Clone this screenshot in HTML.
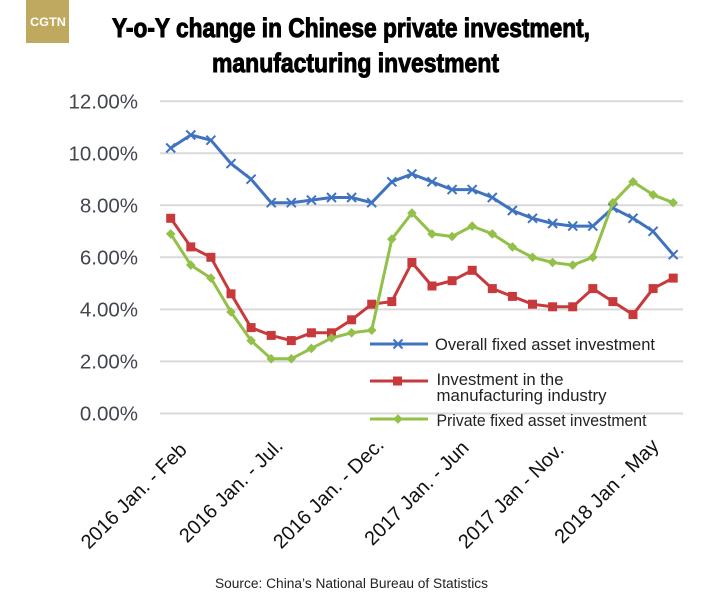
<!DOCTYPE html>
<html>
<head>
<meta charset="utf-8">
<style>
  html,body{margin:0;padding:0;background:#fff;}
  svg{display:block;}
</style>
</head>
<body>
<svg width="706" height="601" viewBox="0 0 706 601" xmlns="http://www.w3.org/2000/svg">
  <defs>
    <marker id="mx" markerWidth="12" markerHeight="12" refX="6" refY="6" markerUnits="userSpaceOnUse" overflow="visible">
      <path d="M1.5 1.5 L10.5 10.5 M10.5 1.5 L1.5 10.5" stroke="#3f73c2" stroke-width="2" fill="none"/>
    </marker>
    <marker id="ms" markerWidth="12" markerHeight="12" refX="6" refY="6" markerUnits="userSpaceOnUse" overflow="visible">
      <rect x="1.5" y="1.5" width="9" height="9" fill="#c8393b"/>
    </marker>
    <marker id="md" markerWidth="12" markerHeight="12" refX="6" refY="6" markerUnits="userSpaceOnUse" overflow="visible">
      <path d="M6 1.2 L10.8 6 L6 10.8 L1.2 6 Z" fill="#92c048"/>
    </marker>
  </defs>

  <rect x="0" y="0" width="706" height="601" fill="#fff"/>

  <!-- Logo -->
  <rect x="26" y="0" width="43" height="43" fill="#bfa95f"/>
  <text x="30" y="26" font-family="Liberation Sans, sans-serif" font-weight="bold" font-size="11.5" fill="#fff" textLength="36" lengthAdjust="spacingAndGlyphs">CGTN</text>

  <!-- Title -->
  <text x="112" y="37" font-family="Liberation Sans Narrow, Liberation Sans, sans-serif" font-weight="bold" font-size="27" fill="#000" stroke="#000" stroke-width="1" textLength="478" lengthAdjust="spacingAndGlyphs">Y-o-Y change in Chinese private investment,</text>
  <text x="212" y="72" font-family="Liberation Sans Narrow, Liberation Sans, sans-serif" font-weight="bold" font-size="27" fill="#000" stroke="#000" stroke-width="1" textLength="287" lengthAdjust="spacingAndGlyphs">manufacturing investment</text>

  <!-- Gridlines -->
  <g stroke="#d9d9d9" stroke-width="2">
    <line x1="160" y1="101.2" x2="683" y2="101.2"/>
    <line x1="160" y1="153.2" x2="683" y2="153.2"/>
    <line x1="160" y1="205.3" x2="683" y2="205.3"/>
    <line x1="160" y1="257.3" x2="683" y2="257.3"/>
    <line x1="160" y1="309.4" x2="683" y2="309.4"/>
    <line x1="160" y1="361.4" x2="683" y2="361.4"/>
    <line x1="160" y1="413.5" x2="683" y2="413.5"/>
  </g>

  <!-- Y labels -->
  <g font-family="Liberation Sans, sans-serif" font-size="20.5" fill="#424651" text-anchor="end">
    <text x="138" y="108.5">12.00%</text>
    <text x="138" y="160.5">10.00%</text>
    <text x="138" y="212.5">8.00%</text>
    <text x="138" y="264.5">6.00%</text>
    <text x="138" y="316.5">4.00%</text>
    <text x="138" y="368.5">2.00%</text>
    <text x="138" y="420.5">0.00%</text>
  </g>

  <!-- Series: Overall (blue) -->
  <polyline fill="none" stroke="#3f73c2" stroke-width="3" stroke-linejoin="round"
    marker-start="url(#mx)" marker-mid="url(#mx)" marker-end="url(#mx)"
    points="170.7,148.0 190.8,135.0 210.9,140.2 231.0,163.6 251.1,179.2 271.2,202.7 291.3,202.7 311.4,200.1 331.5,197.5 351.6,197.5 371.7,202.7 391.8,181.8 411.9,174.0 432.0,181.8 452.1,189.6 472.2,189.6 492.3,197.5 512.4,210.5 532.5,218.3 552.6,223.5 572.7,226.1 592.8,226.1 612.9,207.9 633.0,218.3 653.1,231.3 673.2,254.7"/>

  <!-- Series: Manufacturing (red) -->
  <polyline fill="none" stroke="#c8393b" stroke-width="3" stroke-linejoin="round"
    marker-start="url(#ms)" marker-mid="url(#ms)" marker-end="url(#ms)"
    points="170.7,218.3 190.8,246.9 210.9,257.3 231.0,293.8 251.1,327.6 271.2,335.4 291.3,340.6 311.4,332.8 331.5,332.8 351.6,319.8 371.7,304.2 391.8,301.6 411.9,262.5 432.0,286.0 452.1,280.7 472.2,270.3 492.3,288.6 512.4,296.4 532.5,304.2 552.6,306.8 572.7,306.8 592.8,288.6 612.9,301.6 633.0,314.6 653.1,288.6 673.2,278.1"/>

  <!-- Series: Private (green) -->
  <polyline fill="none" stroke="#92c048" stroke-width="3" stroke-linejoin="round"
    marker-start="url(#md)" marker-mid="url(#md)" marker-end="url(#md)"
    points="170.7,233.9 190.8,265.1 210.9,278.1 231.0,312.0 251.1,340.6 271.2,358.8 291.3,358.8 311.4,348.4 331.5,338.0 351.6,332.8 371.7,330.2 391.8,239.1 411.9,213.1 432.0,233.9 452.1,236.5 472.2,226.1 492.3,233.9 512.4,246.9 532.5,257.3 552.6,262.5 572.7,265.1 592.8,257.3 612.9,202.7 633.0,181.8 653.1,194.8 673.2,202.7"/>

  <!-- Legend -->
  <line x1="370" y1="344" x2="428" y2="344" stroke="#3f73c2" stroke-width="3"/>
  <path d="M393.5 339.5 L402.5 348.5 M402.5 339.5 L393.5 348.5" stroke="#3f73c2" stroke-width="2"/>
  <line x1="370" y1="381" x2="428" y2="381" stroke="#c8393b" stroke-width="3"/>
  <rect x="393" y="376.5" width="9" height="9" fill="#c8393b"/>
  <line x1="370" y1="419" x2="428" y2="419" stroke="#92c048" stroke-width="3"/>
  <path d="M398 414.2 L402.8 419 L398 423.8 L393.2 419 Z" fill="#92c048"/>
  <g font-family="Liberation Sans, sans-serif" font-size="16.3" fill="#222">
    <text x="435" y="350" textLength="220" lengthAdjust="spacingAndGlyphs">Overall fixed asset investment</text>
    <text x="436.5" y="385" textLength="127" lengthAdjust="spacingAndGlyphs">Investment in the</text>
    <text x="436.5" y="401" textLength="170" lengthAdjust="spacingAndGlyphs">manufacturing industry</text>
    <text x="436.5" y="426" textLength="210" lengthAdjust="spacingAndGlyphs">Private fixed asset investment</text>
  </g>

  <!-- X labels -->
  <g font-family="Liberation Sans, sans-serif" font-size="20" fill="#111" text-anchor="end">
    <text transform="translate(188,451) rotate(-45)">2016 Jan. - Feb</text>
    <text transform="translate(284,447) rotate(-45)">2016 Jan. - Jul.</text>
    <text transform="translate(385,446) rotate(-45)">2016 Jan. - Dec.</text>
    <text transform="translate(470,449) rotate(-45)">2017 Jan. - Jun</text>
    <text transform="translate(565,451) rotate(-45)">2017 Jan - Nov.</text>
    <text transform="translate(660,447) rotate(-45)">2018 Jan - May</text>
  </g>

  <!-- Source -->
  <text x="215" y="588" font-family="Liberation Sans, sans-serif" font-size="13.5" fill="#222" textLength="273" lengthAdjust="spacingAndGlyphs">Source: China’s National Bureau of Statistics</text>
</svg>
</body>
</html>
